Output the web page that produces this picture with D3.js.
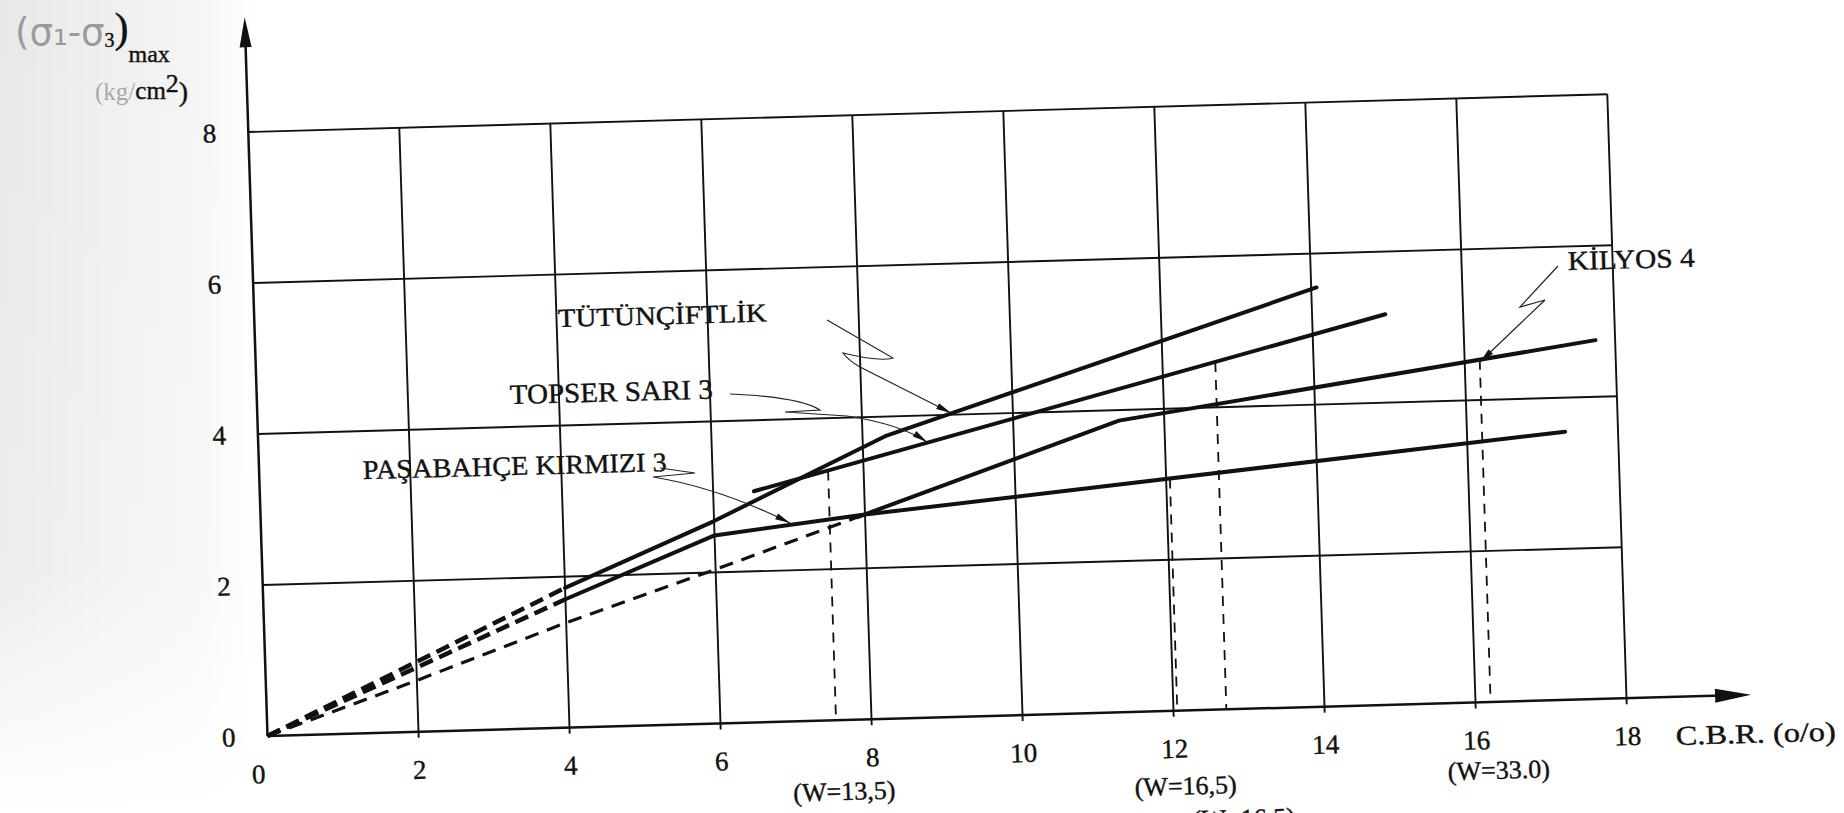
<!DOCTYPE html>
<html>
<head>
<meta charset="utf-8">
<script src="https://cdn.jsdelivr.net/npm/d3@7"></script>
<style>
  html, body { margin: 0; padding: 0; background: #fff; }
  svg { display: block; }
  .lbl { font-family: "Liberation Serif", "DejaVu Serif", serif; fill: #111; stroke: #111; stroke-width: 0.4px; }
</style>
</head>
<body>
<div id="chart"></div>
<script>
// ticks
var xTicks = [0, 2, 4, 6, 8, 10, 12, 14, 16, 18];
var yTicks = [0, 2, 4, 6, 8];

// TÜTÜNÇİFTLİK
var tutunDashX = [0, 4];
var tutunDashY = [0, 1.85];
var tutunX = [4, 6, 8.3, 14.07];
var tutunY = [1.85, 2.68, 3.74, 5.55];

// TOPSER SARI 3
var topserX = [6.54, 14.97];
var topserY = [3.06, 5.17];

// PAŞABAHÇE KIRMIZI 3
var pasaDashX = [0, 4];
var pasaDashY = [0, 1.70];
var pasaX = [4, 6, 8, 17.3];
var pasaY = [1.70, 2.49, 2.71, 3.55];

// KİLYOS 4
var kilyosDashX = [0, 2, 4, 6, 7.9];
var kilyosDashY = [0, 0.68, 1.39, 2.04, 2.68];
var kilyosX = [7.9, 11.4, 17.74];
var kilyosY = [2.68, 3.86, 4.75];

// dashed verticals down to the axis and their W notes
var markerX = [7.53, 12.05, 12.7, 16.2];
var markerOn = ["topser", "pasa", "topser", "kilyos"];
var markerText = ["(W=13,5)", "(W=16,5)", "(W=16,5)", "(W=33.0)"];

var curves = {
  tutun: [tutunX, tutunY],
  topser: [topserX, topserY],
  pasa: [pasaX, pasaY],
  kilyos: [kilyosX, kilyosY]
};

var width = 1844, height = 813;
var plotW = 1359, plotH = 604;

var x = d3.scaleLinear().domain([0, 18]).range([0, plotW]);
var y = d3.scaleLinear().domain([0, 8]).range([plotH, 0]);

function valueAt(xs, ys, v) {
  for (var i = 1; i < xs.length; i++) {
    if (v <= xs[i]) {
      var t = (v - xs[i - 1]) / (xs[i] - xs[i - 1]);
      return ys[i - 1] + t * (ys[i] - ys[i - 1]);
    }
  }
  return ys[ys.length - 1];
}

var line = d3.line()
  .x(function (d) { return x(d[0]); })
  .y(function (d) { return y(d[1]); });

var svg = d3.select("#chart").append("svg")
  .attr("width", width)
  .attr("height", height);

var defs = svg.append("defs");
var shade = defs.append("linearGradient").attr("id", "shade")
  .attr("x1", 0).attr("x2", 1).attr("y1", 0).attr("y2", 0);
shade.append("stop").attr("offset", 0).attr("stop-color", "#000").attr("stop-opacity", 0.09);
shade.append("stop").attr("offset", 0.75).attr("stop-color", "#000").attr("stop-opacity", 0.04);
shade.append("stop").attr("offset", 1).attr("stop-color", "#000").attr("stop-opacity", 0);

var fade = defs.append("linearGradient").attr("id", "fade")
  .attr("x1", 0).attr("x2", 0).attr("y1", 0).attr("y2", 1);
fade.append("stop").attr("offset", 0).attr("stop-color", "#fff").attr("stop-opacity", 1);
fade.append("stop").attr("offset", 0.7).attr("stop-color", "#fff").attr("stop-opacity", 0.8);
fade.append("stop").attr("offset", 1).attr("stop-color", "#fff").attr("stop-opacity", 0);
defs.append("mask").attr("id", "fadeMask")
  .append("rect").attr("x", 0).attr("y", 0).attr("width", 260).attr("height", height)
  .attr("fill", "url(#fade)");

defs.append("marker")
  .attr("id", "tip")
  .attr("viewBox", "0 0 14 6")
  .attr("refX", 14).attr("refY", 3)
  .attr("markerUnits", "userSpaceOnUse")
  .attr("markerWidth", 15).attr("markerHeight", 7)
  .attr("orient", "auto")
  .append("path").attr("d", "M0,0 L14,3 L0,6 Z").attr("fill", "#111");

// grey scanner shadow on the left margin
svg.append("rect")
  .attr("x", 0).attr("y", 0).attr("width", 260).attr("height", height)
  .attr("fill", "url(#shade)")
  .attr("mask", "url(#fadeMask)");

// the scan is turned a little, so the plot lives in a skewed group
var g = svg.append("g")
  .attr("transform", "matrix(1,-0.0278,0.0318,1,248.3,132)");

// grid
g.selectAll(".vgrid")
  .data(xTicks.slice(1))
  .enter().append("line")
  .attr("class", "vgrid")
  .attr("x1", function (d) { return x(d); })
  .attr("x2", function (d) { return x(d); })
  .attr("y1", y(0) + 6)
  .attr("y2", y(8))
  .attr("stroke", "#111")
  .attr("stroke-width", 1.9);

g.selectAll(".hgrid")
  .data(yTicks.slice(1))
  .enter().append("line")
  .attr("class", "hgrid")
  .attr("x1", 0)
  .attr("x2", x(18))
  .attr("y1", function (d) { return y(d); })
  .attr("y2", function (d) { return y(d); })
  .attr("stroke", "#111")
  .attr("stroke-width", 1.9);

// axes with arrow heads
var yTop = y(9.52), xEnd = x(19.65);
g.append("line")
  .attr("x1", 0).attr("x2", 0).attr("y1", y(0)).attr("y2", yTop + 20)
  .attr("stroke", "#111").attr("stroke-width", 2.5);
g.append("path")
  .attr("d", "M0," + yTop + " L-6," + (yTop + 30) + " L6," + (yTop + 30) + " Z")
  .attr("fill", "#111");
g.append("line")
  .attr("x1", 0).attr("x2", xEnd - 20).attr("y1", y(0)).attr("y2", y(0))
  .attr("stroke", "#111").attr("stroke-width", 2.5);
g.append("path")
  .attr("d", "M" + xEnd + "," + y(0) + " L" + (xEnd - 36) + "," + (y(0) - 7) +
    " L" + (xEnd - 36) + "," + (y(0) + 7) + " Z")
  .attr("fill", "#111");

// tick labels
g.selectAll(".xl")
  .data(xTicks)
  .enter().append("text")
  .attr("class", "lbl")
  .attr("x", function (d) { return x(d) - (d === 0 ? 10 : 0); })
  .attr("y", plotH + 47)
  .attr("text-anchor", "middle")
  .style("font-size", "27px")
  .text(function (d) { return d; });

g.selectAll(".yl")
  .data(yTicks)
  .enter().append("text")
  .attr("class", "lbl")
  .attr("x", -32)
  .attr("y", function (d) { return y(d); })
  .attr("dy", "0.35em")
  .attr("text-anchor", "end")
  .style("font-size", "27px")
  .text(function (d) { return d; });

g.append("text")
  .attr("class", "lbl")
  .attr("x", x(18) + 48)
  .attr("y", plotH + 48)
  .attr("textLength", 160)
  .attr("lengthAdjust", "spacingAndGlyphs")
  .style("font-size", "27px")
  .text("C.B.R. (o/o)");

// dashed verticals
markerX.forEach(function (mx, i) {
  var c = curves[markerOn[i]];
  g.append("line")
    .attr("x1", x(mx)).attr("x2", x(mx))
    .attr("y1", y(valueAt(c[0], c[1], mx)))
    .attr("y2", y(0))
    .attr("stroke", "#111")
    .attr("stroke-width", 1.8)
    .attr("stroke-dasharray", "10,8");
});

var wDy = [80, 84, 118, 77];
g.selectAll(".wl")
  .data(markerText)
  .enter().append("text")
  .attr("class", "lbl")
  .attr("x", function (d, i) { return x(markerX[i]) + (i === 2 ? 14 : 6); })
  .attr("y", function (d, i) { return plotH + wDy[i]; })
  .attr("text-anchor", "middle")
  .style("font-size", "26px")
  .text(function (d) { return d; });

// dashed starts from the origin
[[tutunDashX, tutunDashY, "14,7", 4.5], [pasaDashX, pasaDashY, "14,7", 4.5],
 [kilyosDashX, kilyosDashY, "14,9", 3.2]].forEach(function (s) {
  g.append("path")
    .attr("d", line(d3.zip(s[0], s[1])))
    .attr("fill", "none")
    .attr("stroke", "#111")
    .attr("stroke-width", s[3])
    .attr("stroke-dasharray", s[2]);
});

// solid curves
[tutunX, topserX, pasaX, kilyosX].forEach(function (xs, i) {
  var ys = [tutunY, topserY, pasaY, kilyosY][i];
  g.append("path")
    .attr("d", line(d3.zip(xs, ys)))
    .attr("fill", "none")
    .attr("stroke", "#111")
    .attr("stroke-width", 4)
    .attr("stroke-linecap", "round")
    .attr("stroke-linejoin", "round");
});

// curve names and their leaders (page pixels)
var names = [
  { text: "TÜTÜNÇİFTLİK", x: 558, y: 327, w: 209, size: 26 },
  { text: "TOPSER SARI 3", x: 510, y: 404, w: 203, size: 28 },
  { text: "PAŞABAHÇE KIRMIZI 3", x: 363, y: 479, w: 304, size: 27 },
  { text: "KİLYOS 4", x: 1568, y: 270, w: 127, size: 27 }
];
var leaders = [
  "M827,320 L893,358 Q880,362 843,353 Q848,360 860,367 L951,413",
  "M730,394 Q800,397 820,410 L785,412 L847,416 Q900,424 927,442",
  "M660,468 L695,473 L653,477 Q720,488 790,523",
  "M1558,266 L1520,307 L1545,300 L1480,362"
];

svg.selectAll(".name")
  .data(names)
  .enter().append("text")
  .attr("class", "lbl")
  .attr("x", function (d) { return d.x; })
  .attr("y", function (d) { return d.y; })
  .attr("textLength", function (d) { return d.w; })
  .attr("lengthAdjust", "spacingAndGlyphs")
  .attr("transform", function (d) { return "rotate(-1.5," + d.x + "," + d.y + ")"; })
  .style("font-size", function (d) { return d.size + "px"; })
  .text(function (d) { return d.text; });

svg.selectAll(".leader")
  .data(leaders)
  .enter().append("path")
  .attr("d", function (d) { return d; })
  .attr("fill", "none")
  .attr("stroke", "#222")
  .attr("stroke-width", 1.2)
  .attr("marker-end", "url(#tip)");

// y title, partly hand written in pencil
var title = svg.append("text").attr("x", 15).attr("y", 45);
title.append("tspan")
  .style("font-family", "'DejaVu Sans', sans-serif")
  .style("font-size", "37px")
  .attr("fill", "#9a9a9a")
  .text("(σ₁-σ");
title.append("tspan")
  .attr("class", "lbl")
  .attr("dy", 2)
  .style("font-size", "20px")
  .text("3");
title.append("tspan")
  .attr("class", "lbl")
  .attr("dy", -5)
  .style("font-size", "42px")
  .text(")");
title.append("tspan")
  .attr("class", "lbl")
  .attr("dy", 20)
  .style("font-size", "24px")
  .text("max");

var unit = svg.append("text").attr("x", 95).attr("y", 100);
unit.append("tspan")
  .style("font-family", "'Liberation Serif', serif")
  .style("font-size", "25px")
  .attr("fill", "#a8a8a8")
  .text("(kg/");
unit.append("tspan")
  .attr("class", "lbl")
  .attr("dy", -1)
  .style("font-size", "25px")
  .text("cm");
unit.append("tspan")
  .attr("class", "lbl")
  .attr("dy", -7)
  .style("font-size", "26px")
  .text("2");
unit.append("tspan")
  .attr("class", "lbl")
  .attr("dy", 9)
  .style("font-size", "28px")
  .text(")");
</script>
</body>
</html>
